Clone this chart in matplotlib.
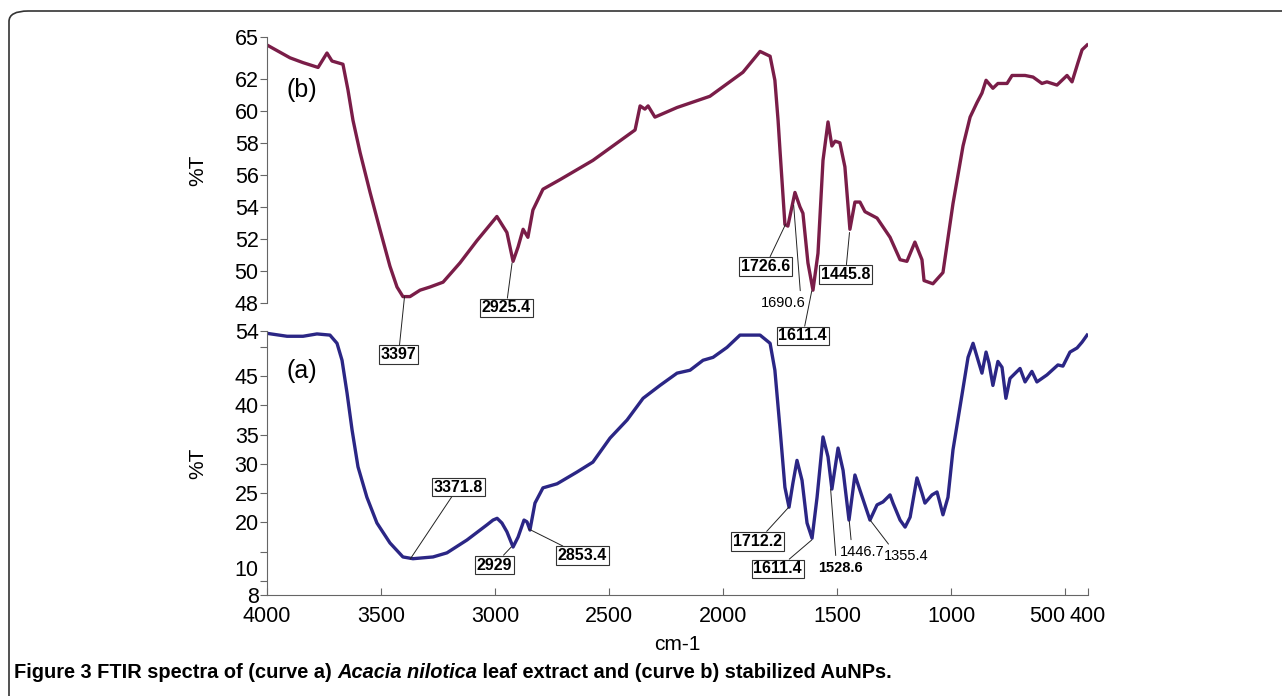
import matplotlib
matplotlib.use("Agg")
import matplotlib.pyplot as plt
from matplotlib.patches import FancyBboxPatch

plt.rcParams["font.family"] = ["Liberation Sans", "DejaVu Sans"]

# curve (b): stabilized AuNPs, wavenumber (cm-1) and %T
wn_b = [4000, 3899, 3842, 3776, 3737, 3715, 3667, 3645, 3623, 3592, 3548, 3505,
        3461, 3430, 3404, 3373, 3329, 3285, 3228, 3154, 3079, 2992, 2948, 2921,
        2899, 2877, 2856, 2834, 2790, 2715, 2571, 2386, 2364, 2343, 2329, 2299,
        2202, 2058, 1913, 1838, 1794, 1773, 1759, 1750, 1729, 1716, 1685, 1663,
        1650, 1628, 1606, 1584, 1562, 1540, 1523, 1509, 1488, 1466, 1444, 1422,
        1400, 1378, 1325, 1268, 1224, 1194, 1159, 1128, 1119, 1080, 1036, 992,
        948, 917, 887, 865, 847, 817, 795, 755, 733, 676, 641, 602, 580, 536,
        492, 470, 444, 426, 404]
t_b = [64.1, 63.3, 63.0, 62.7, 63.6, 63.1, 62.9, 61.3, 59.4, 57.4, 54.9, 52.6,
       50.3, 49.0, 48.4, 48.4, 48.8, 49.0, 49.3, 50.5, 51.9, 53.4, 52.4, 50.6,
       51.5, 52.6, 52.1, 53.8, 55.1, 55.7, 56.9, 58.8, 60.3, 60.1, 60.3, 59.6,
       60.2, 60.9, 62.4, 63.7, 63.4, 61.9, 59.4, 57.4, 52.9, 52.8, 54.9, 54.0,
       53.6, 50.5, 48.8, 51.1, 56.9, 59.3, 57.8, 58.1, 58.0, 56.5, 52.6, 54.3,
       54.3, 53.7, 53.3, 52.1, 50.7, 50.6, 51.8, 50.7, 49.4, 49.2, 49.9, 54.2,
       57.8, 59.6, 60.5, 61.1, 61.9, 61.4, 61.7, 61.7, 62.2, 62.2, 62.1, 61.7,
       61.8, 61.6, 62.2, 61.8, 63.0, 63.8, 64.1]

# curve (a): Acacia nilotica leaf extract
wn_a = [4000, 3912, 3842, 3781, 3724, 3693, 3671, 3649, 3627, 3601, 3562, 3518,
        3461, 3404, 3360, 3272, 3211, 3123, 3035, 3009, 2991, 2970, 2948, 2921,
        2899, 2873, 2860, 2847, 2825, 2790, 2728, 2641, 2571, 2496, 2421, 2351,
        2277, 2202, 2145, 2088, 2044, 1983, 1926, 1838, 1794, 1773, 1750, 1729,
        1711, 1694, 1676, 1654, 1632, 1610, 1588, 1562, 1540, 1523, 1496, 1474,
        1448, 1422, 1400, 1356, 1325, 1299, 1268, 1255, 1224, 1202, 1180, 1150,
        1128, 1115, 1084, 1062, 1049, 1036, 1014, 992, 953, 926, 904, 882, 865,
        847, 834, 817, 795, 777, 760, 742, 698, 676, 646, 624, 580, 532, 510,
        479, 448, 426, 404]
t_a = [52.3, 51.8, 51.8, 52.2, 52.0, 50.6, 47.7, 42.1, 35.8, 29.5, 24.3, 19.9,
       16.5, 14.1, 13.8, 14.1, 14.8, 17.0, 19.6, 20.4, 20.7, 19.9, 18.4, 15.8,
       17.5, 20.4, 20.1, 18.7, 23.3, 25.9, 26.6, 28.6, 30.3, 34.4, 37.5, 41.2,
       43.4, 45.5, 46.0, 47.7, 48.2, 49.9, 52.0, 52.0, 50.6, 46.0, 35.8, 26.0,
       22.6, 26.7, 30.6, 27.2, 19.9, 17.3, 24.3, 34.6, 31.2, 25.7, 32.7, 28.9,
       20.4, 28.1, 25.5, 20.4, 23.0, 23.5, 24.7, 23.3, 20.4, 19.2, 20.9, 27.6,
       25.0, 23.3, 24.7, 25.2, 23.3, 21.3, 24.3, 32.4, 41.7, 48.2, 50.6, 47.7,
       45.5, 49.1, 47.2, 43.4, 47.5, 46.5, 41.2, 44.6, 46.3, 44.0, 45.8, 44.0,
       45.2, 46.9, 46.7, 49.1, 49.8, 50.8, 52.0]

# labelled bands and the %T where each leader line starts
peaks_b = ["3397", "2925.4", "1726.6", "1690.6", "1611.4", "1445.8"]
peak_t_b = [48.4, 50.5, 52.9, 54.1, 48.75, 52.4]
peaks_a = ["3371.8", "2929", "2853.4", "1712.2", "1611.4", "1528.6", "1446.7", "1355.4"]
peak_t_a = [13.75, 15.8, 18.9, 22.6, 17.0, 25.7, 20.2, 20.4]

x_ticks = [4000, 3500, 3000, 2500, 2000, 1500, 1000, 500, 400]

# label placement: (dx, dy) in pixels, boxed, bold, relpos
style_b = [((-6, -58), True, True, None),
           ((-6, -45), True, True, None),
           ((-20, -42), True, True, None),
           ((-10, -98), False, False, (0.88, 1.0)),
           ((-9, -45), True, True, None),
           ((-4, -42), True, True, None)]
style_a = [((48, 72), True, True, None),
           ((-17, -18), True, True, None),
           ((54, -27), True, True, None),
           ((-31, -34), True, True, None),
           ((-34, -29), True, True, None),
           ((10, -79), False, True, (0.4, 1.0)),
           ((13, -31), False, False, (0.26, 1.0)),
           ((36, -36), False, False, (0.19, 1.0))]

COL_B = "#7a1d48"
COL_A = "#2b2685"
SPINE = "#666666"
TICK_FS = 15.5

fig = plt.figure(figsize=(12.82, 6.96), dpi=100)

# rounded frame around the figure
frame = FancyBboxPatch((9 / 1282, -0.1), 1.2, 1.1 - 11 / 696,
                       boxstyle="round,pad=0,rounding_size=0.015",
                       transform=fig.transFigure, fill=False,
                       ec="#333333", lw=1.2)
fig.patches.append(frame)

ax_b = fig.add_axes([267 / 1282, 1 - 303 / 696, 821 / 1282, 266 / 696])
ax_a = fig.add_axes([267 / 1282, 1 - 595 / 696, 821 / 1282, 264 / 696])
# keep the (b) labels that hang below their panel visible
ax_b.set_zorder(2)
ax_b.patch.set_visible(False)
ax_a.patch.set_visible(False)

ax_b.plot(wn_b, t_b, color=COL_B, lw=2.4, solid_joinstyle="round")
ax_a.plot(wn_a, t_a, color=COL_A, lw=2.4, solid_joinstyle="round")

for ax in (ax_a, ax_b):
    ax.set_xlim(4000, 400)
    for s in ("top", "right"):
        ax.spines[s].set_visible(False)
    ax.spines["left"].set_color(SPINE)
    ax.spines["bottom"].set_color(SPINE)
    ax.tick_params(axis="y", direction="out", length=5, color=SPINE,
                   labelsize=TICK_FS, pad=1)
    ax.set_ylabel("%T", fontsize=15)
    ax.yaxis.set_label_coords(-60 / 821, 0.5)

# top panel (b)
ax_b.set_ylim(48, 64.6)
ax_b.set_yticks([48, 50, 52, 54, 56, 58, 60, 62, 64.6])
ax_b.set_yticklabels(["48", "50", "52", "54", "56", "58", "60", "62", "65"])
ax_b.spines["bottom"].set_visible(False)
ax_b.set_xticks([])
ax_b.text(0.043, 0.80, "(b)", transform=ax_b.transAxes, fontsize=18,
          ha="center", va="center")

# bottom panel (a)
ax_a.set_ylim(7.6, 52.7)
ax_a.set_yticks([7.6, 10, 15, 20, 25, 30, 35, 40, 45, 50, 52.7])
ax_a.set_yticklabels(["8", "10", "", "20", "25", "30", "35", "40", "45", "", "54"])
ax_a.set_xticks(x_ticks)
ax_a.set_xticklabels([str(v) for v in x_ticks])
ax_a.tick_params(axis="x", direction="in", length=5, color=SPINE,
                 labelsize=TICK_FS, pad=8)
ax_a.set_xlabel("cm-1", fontsize=15, labelpad=6)
ax_a.text(0.043, 0.85, "(a)", transform=ax_a.transAxes, fontsize=18,
          ha="center", va="center")
# crowded tick labels are nudged aside as in the original
ax_a.get_yticklabels()[1].set_va("bottom")
ax_a.get_xticklabels()[7].set_ha("right")


def label_peaks(ax, labels, tvals, styles):
    for lab, tv, (off, boxed, bold, rel) in zip(labels, tvals, styles):
        arrow = dict(arrowstyle="-", lw=0.7, color="#222222",
                     shrinkA=0, shrinkB=0)
        kw = {}
        if boxed:
            kw["bbox"] = dict(boxstyle="square,pad=0.12", fc="white",
                              ec="#333333", lw=0.8)
        else:
            arrow["relpos"] = rel
            arrow["shrinkA"] = 2
        ax.annotate(lab, xy=(float(lab), tv), xytext=off,
                    textcoords="offset pixels", ha="center", va="center",
                    fontsize=11.5 if boxed else 10.5,
                    fontweight="bold" if bold else "normal",
                    arrowprops=arrow, annotation_clip=False, **kw)


label_peaks(ax_b, peaks_b, peak_t_b, style_b)
label_peaks(ax_a, peaks_a, peak_t_a, style_a)

# caption, with the species name in italics
cap_font = ["Liberation Sans", "DejaVu Sans"]
parts = [("Figure 3 FTIR spectra of (curve a) ", "normal"),
         ("Acacia nilotica", "italic"),
         (" leaf extract and (curve b) stabilized AuNPs.", "normal")]
renderer = fig.canvas.get_renderer()
x0 = 14
for txt, st in parts:
    t = fig.text(x0 / 1282, 1 - 673 / 696, txt, fontsize=14.4, fontweight="bold",
                 fontstyle=st, family=cap_font, va="center", ha="left")
    x0 = t.get_window_extent(renderer).x1

fig.savefig("out.png", dpi=100)
